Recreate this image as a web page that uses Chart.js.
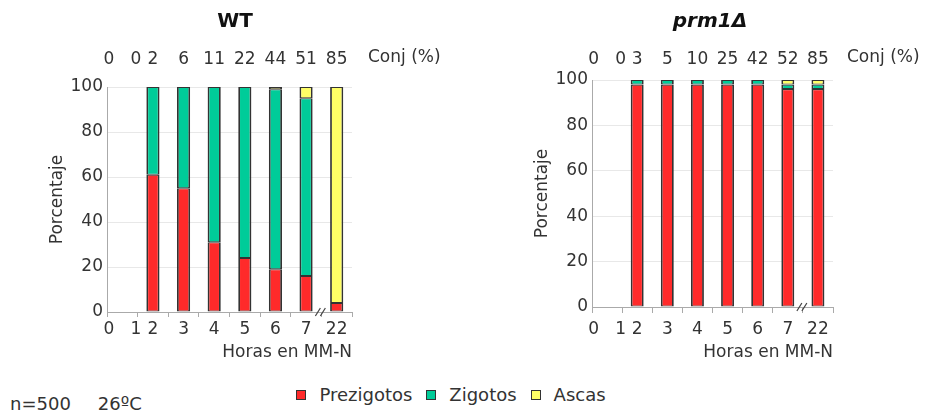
<!DOCTYPE html>
<html lang="es">
<head>
  <meta charset="UTF-8" />
  <title>Conjugación WT / prm1Δ</title>
  <style>
    body {
      margin: 0;
      background: #fff;
      font-family: 'DejaVu Sans', Verdana, sans-serif;
      color: #333;
    }
    #wrap {
      position: relative;
      width: 939px;
      height: 416px;
      overflow: hidden;
    }
    canvas {
      position: absolute;
      top: 0;
    }
    #chartWT { left: 0; }
    #chartPrm { left: 470px; }
    #legend {
      position: absolute;
      top: 386px;
      left: 0;
      width: 902px;
      display: flex;
      justify-content: center;
      font-size: 18px;
      line-height: 18px;
    }
    #legend span.item {
      display: flex;
      align-items: center;
      margin: 0 7px;
    }
    #legend i {
      display: inline-block;
      width: 8px;
      height: 8px;
      border: 1.5px solid #333;
      margin-right: 13px;
    }
    #note {
      position: absolute;
      top: 395px;
      left: 10px;
      font-size: 18px;
      line-height: 18px;
    }
    #note span + span { margin-left: 27px; }
  </style>
  <script src="https://cdn.jsdelivr.net/npm/chart.js"></script>
</head>
<body>
  <div id="wrap">
    <canvas id="chartWT" width="450" height="372"></canvas>
    <canvas id="chartPrm" width="469" height="372"></canvas>
    <div id="legend"></div>
    <div id="note"><span>n=500</span><span>26ºC</span></div>
  </div>
  <script>
    // hours in MM-N (0 and 1 share the first slot, no cells there)
    const hours = ['0', '1', '2', '3', '4', '5', '6', '7', '22'];
    const conjWT = ['0', '0', '2', '6', '11', '22', '44', '51', '85'];
    const conjPrm = ['0', '0', '3', '5', '10', '25', '42', '52', '85'];
    const yTicks = [0, 20, 40, 60, 80, 100];

    const seriesNames = ['Prezigotos', 'Zigotos', 'Ascas'];
    const seriesColors = ['#ff2a2a', '#00cc99', '#ffff66'];

    // percentages for hours 2..22
    const wtPrezigotos = [61, 55, 31, 24, 19, 16, 4];
    const wtZigotos = [39, 45, 69, 76, 80, 79, 0];
    const wtAscas = [0, 0, 0, 0, 1, 5, 96];

    const prmPrezigotos = [98, 98, 98, 98, 98, 96, 96];
    const prmZigotos = [2, 2, 2, 2, 2, 2, 2];
    const prmAscas = [0, 0, 0, 0, 0, 2, 2];

    const FONT = "'DejaVu Sans', Verdana, sans-serif";

    // first slot holds hours 0 and 1 together
    function slotLabels(arr) {
      return [arr[0] + '   ' + arr[1]].concat(arr.slice(2));
    }

    function buildChart(id, title, italic, conj, series, geo) {
      const ctx = document.getElementById(id).getContext('2d');

      const extras = {
        id: 'extras',
        afterDraw(chart) {
          const c = chart.ctx;
          const area = chart.chartArea;
          const x = chart.scales.x;
          c.save();
          // panel title (centred over the panel, not the plot)
          c.fillStyle = '#111';
          c.font = (italic ? 'italic ' : '') + 'bold 20px ' + FONT;
          c.textAlign = 'center';
          c.textBaseline = 'middle';
          c.fillText(title, geo.titleX, 22);
          // "Conj (%)" after the top labels
          c.fillStyle = '#333';
          c.font = '17px ' + FONT;
          c.textAlign = 'left';
          c.fillText('Conj (%)', area.right + geo.conjGap, geo.conjY);
          // axis break between 7 and 22
          const bx = (x.getPixelForValue(6) + x.getPixelForValue(7)) / 2 - 1;
          const by = area.bottom;
          c.strokeStyle = '#444';
          c.lineWidth = 1.2;
          [-2.5, 2.5].forEach(off => {
            c.beginPath();
            c.moveTo(bx + off - 2.5, by + 4);
            c.lineTo(bx + off + 2.5, by - 4);
            c.stroke();
          });
          c.restore();
        }
      };

      return new Chart(ctx, {
        type: 'bar',
        data: {
          labels: slotLabels(hours),
          datasets: series.map((vals, i) => ({
            label: seriesNames[i],
            data: [null].concat(vals),
            backgroundColor: seriesColors[i],
            borderColor: '#333',
            borderWidth: { top: 1.1, bottom: 1.1, left: 1.8, right: 1.8 },
            borderSkipped: false,
            barPercentage: 0.43,
            categoryPercentage: 1
          }))
        },
        options: {
          responsive: false,
          animation: false,
          layout: { padding: { left: 0, right: geo.padRight, top: 34, bottom: 0 } },
          plugins: {
            legend: { display: false },
            tooltip: { enabled: false },
            title: { display: false }
          },
          scales: {
            x: {
              stacked: true,
              offset: true,
              grid: { drawOnChartArea: false, drawTicks: true, tickLength: geo.tickLen, color: '#aaa', offset: true },
              border: { color: '#aaa' },
              ticks: { color: '#333', padding: geo.tickPad, font: { family: FONT, size: 17 }, maxRotation: 0, autoSkip: false },
              title: {
                display: true,
                text: 'Horas en MM-N',
                align: 'end',
                color: '#333',
                font: { family: FONT, size: 17 },
                padding: { top: 0, bottom: 8.8 }
              },
              afterFit(scale) { scale.height = geo.bottomH; }
            },
            xTop: {
              type: 'category',
              position: 'top',
              labels: slotLabels(conj),
              offset: true,
              grid: { display: false, drawTicks: false },
              border: { display: false },
              ticks: { color: '#333', padding: geo.topPad, font: { family: FONT, size: 17 }, maxRotation: 0, autoSkip: false },
              afterFit(scale) { scale.height = geo.topH; }
            },
            y: {
              stacked: true,
              min: 0,
              max: 100,
              grid: { color: '#e8e8e8', drawTicks: false },
              border: { color: '#aaa' },
              afterBuildTicks(scale) { scale.ticks = yTicks.map(v => ({ value: v })); },
              ticks: { color: '#333', padding: 4, font: { family: FONT, size: 17 } },
              title: {
                display: true,
                text: 'Porcentaje',
                color: '#333',
                font: { family: FONT, size: 17 },
                padding: { top: geo.yTitlePad, bottom: 0 }
              },
              afterFit(scale) { scale.width = geo.yWidth; }
            }
          }
        },
        plugins: [extras]
      });
    }

    buildChart('chartWT', 'WT', false, conjWT, [wtPrezigotos, wtZigotos, wtAscas], {
      padRight: 98, yWidth: 107, topH: 53, topPad: 17, bottomH: 60,
      tickLen: 5, tickPad: 2, yTitlePad: 47.8, conjGap: 16, conjY: 58, titleX: 235
    });

    buildChart('chartPrm', 'prm1Δ', true, conjPrm, [prmPrezigotos, prmZigotos, prmAscas], {
      padRight: 106, yWidth: 122, topH: 46, topPad: 10, bottomH: 65,
      tickLen: 6, tickPad: 6, yTitlePad: 62.8, conjGap: 14, conjY: 58, titleX: 240
    });

    // shared legend
    const legendEl = document.getElementById('legend');
    seriesNames.forEach((name, i) => {
      const item = document.createElement('span');
      item.className = 'item';
      const sw = document.createElement('i');
      sw.style.background = seriesColors[i];
      item.appendChild(sw);
      item.appendChild(document.createTextNode(name));
      legendEl.appendChild(item);
    });
  </script>
</body>
</html>
